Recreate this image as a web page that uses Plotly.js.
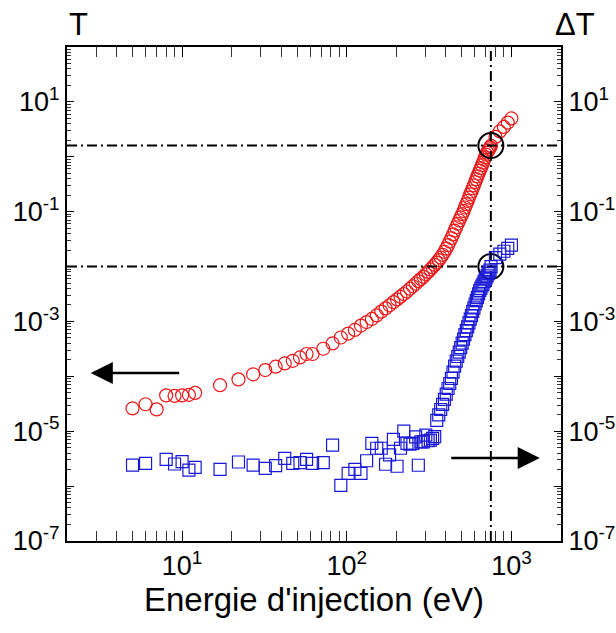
<!DOCTYPE html>
<html>
<head>
<meta charset="utf-8">
<script src="https://cdn.plot.ly/plotly-3.0.1.min.js"></script>
<style>html,body{margin:0;padding:0;background:#fff;}#chart{width:616px;height:633px;}</style>
</head>
<body>
<div id="chart"></div>
<script>
// Energie d'injection (eV) for T (red circles)
const energyT = [5,6,7,8,9,10,11,12,17,22,27,32,37,42,47,52,57,62,
  72,82,92,102,112,122,132,142,152,162,172,182,192,202,212,222,232,242,252,262,272,282,292,
  302,312,322,332,342,352,362,372,382,392,402,412,422,432,442,452,462,472,482,492,
  502,512,522,532,542,552,562,572,582,592,602,612,622,632,642,652,662,672,682,692,
  702,712,722,732,742,752,800,850,900,950,1000];
const valuesT = [2.6e-5,3.1e-5,2.5e-5,4.5e-5,4.4e-5,4.5e-5,4.6e-5,5.0e-5,6.9e-5,8.8e-5,1.09e-4,1.30e-4,1.50e-4,1.72e-4,1.92e-4,2.21e-4,2.55e-4,2.55e-4,
  3.18e-4,3.98e-4,5.1e-4,6.0e-4,7.0e-4,8.4e-4,9.75e-4,1.11e-3,1.29e-3,1.51e-3,1.73e-3,1.97e-3,2.24e-3,2.52e-3,2.83e-3,3.16e-3,3.51e-3,3.94e-3,4.38e-3,4.86e-3,5.41e-3,5.93e-3,6.5e-3,
  7.24e-3,8.0e-3,8.85e-3,9.72e-3,1.07e-2,1.18e-2,1.31e-2,1.46e-2,1.64e-2,1.86e-2,2.12e-2,2.45e-2,2.85e-2,3.30e-2,3.85e-2,4.50e-2,5.20e-2,6.00e-2,6.90e-2,7.90e-2,
  9.0e-2,0.103,0.119,0.137,0.157,0.180,0.207,0.233,0.267,0.302,0.346,0.390,0.440,0.495,0.560,0.621,0.702,0.780,0.881,0.979,
  1.09,1.19,1.29,1.37,1.48,1.58,2.3,2.9,3.5,4.2,5.0];

// Energie d'injection (eV) for Delta T (blue squares)
const energyDT = [5,6,8,9,10,11,12,17,22,27,32,37,42,47,52,57,62,
  72,82,92,102,112,122,132,142,152,162,172,182,192,202,212,222,232,242,252,262,272,282,292,
  302,312,322,332,342,352,362,372,382,392,402,412,422,432,442,452,462,472,482,492,
  502,512,522,532,542,552,562,572,582,592,602,612,622,632,642,652,662,672,682,692,
  702,712,722,732,742,752,800,850,900,950,1000];
const valuesDT = [2.42e-6,2.6e-6,3.08e-6,2.53e-6,2.79e-6,1.96e-6,2.2e-6,2.02e-6,2.75e-6,2.42e-6,2.11e-6,2.36e-6,3.2e-6,2.6e-6,2.67e-6,3.08e-6,2.6e-6,
  2.67e-6,5.6e-6,1.03e-6,1.71e-6,2.02e-6,1.71e-6,2.9e-6,6.0e-6,4.9e-6,4.9e-6,2.5e-6,3.7e-6,7.1e-6,2.3e-6,4.9e-6,1.0e-5,6.0e-6,5.8e-6,6.0e-6,7.9e-6,2.4e-6,6.4e-6,6.4e-6,
  8.5e-6,6.7e-6,6.9e-6,7.4e-6,8.0e-6,1.58e-5,1.98e-5,2.49e-5,3.09e-5,3.80e-5,4.76e-5,6.0e-5,7.4e-5,9.2e-5,1.19e-4,1.53e-4,1.90e-4,2.30e-4,2.77e-4,3.34e-4,
  4.04e-4,4.77e-4,5.77e-4,6.78e-4,7.98e-4,9.38e-4,1.10e-3,1.28e-3,1.52e-3,1.76e-3,2.08e-3,2.39e-3,2.75e-3,3.18e-3,3.66e-3,4.0e-3,4.42e-3,4.80e-3,5.30e-3,5.75e-3,
  6.24e-3,6.76e-3,7.43e-3,7.96e-3,8.63e-3,1.0e-2,1.45e-2,1.68e-2,1.90e-2,2.15e-2,2.45e-2];

// Guide lines and marked points
const guideEnergy = 750;
const guideLevels = [1.6, 0.01];
const xRangeEnds = [2, 2000];
const yRangeEnds = [1e-7, 1e2];

// Tick labels
const xTickVals = [10, 100, 1000];
const xTickText = ['10<sup>1</sup>', '10<sup>2</sup>', '10<sup>3</sup>'];
const yTickVals = [1e-7,1e-6,1e-5,1e-4,1e-3,1e-2,1e-1,1e0,1e1,1e2];
const yTickText = ['10<sup>-7</sup>','','10<sup>-5</sup>','','10<sup>-3</sup>','','10<sup>-1</sup>','','10<sup>1</sup>',''];

function minorVals(k0, k1) {
  const out = [];
  for (let k = k0; k <= k1; k++) for (let m = 2; m <= 9; m++) out.push(m * Math.pow(10, k));
  return out;
}

const FONT = 'Liberation Sans, Arial, sans-serif';
const dashPat = '10px,4px,2px,4px';

const traces = [
  {x: energyT, y: valuesT, type: 'scatter', mode: 'markers', name: 'T',
   marker: {symbol: 'circle-open', size: 13, color: 'rgb(235,25,25)', line: {width: 1.2, color: 'rgb(235,25,25)'}}},
  {x: energyDT, y: valuesDT, type: 'scatter', mode: 'markers', name: 'ΔT', yaxis: 'y2',
   marker: {symbol: 'square-open', size: 12, color: 'rgb(25,25,215)', line: {width: 1.2, color: 'rgb(25,25,215)'}}},
  {x: [guideEnergy, guideEnergy], y: yRangeEnds, type: 'scatter', mode: 'lines', showlegend: false,
   line: {color: 'black', width: 2, dash: dashPat}},
  {x: xRangeEnds, y: [guideLevels[0], guideLevels[0]], type: 'scatter', mode: 'lines', showlegend: false,
   line: {color: 'black', width: 2, dash: dashPat}},
  {x: xRangeEnds, y: [guideLevels[1], guideLevels[1]], type: 'scatter', mode: 'lines', showlegend: false,
   line: {color: 'black', width: 2, dash: dashPat}},
  {x: [guideEnergy, guideEnergy], y: guideLevels, type: 'scatter', mode: 'markers', showlegend: false,
   marker: {symbol: 'circle-open', size: 25, color: 'black', line: {width: 2, color: 'black'}}}
];

const yCommon = {
  type: 'log',
  range: [Math.log10(yRangeEnds[0]), Math.log10(yRangeEnds[1])],
  tickmode: 'array', tickvals: yTickVals, ticktext: yTickText,
  ticks: 'inside', ticklen: 7, tickwidth: 1.2, tickcolor: 'black',
  minor: {tickmode: 'array', tickvals: minorVals(-7, 1), ticks: 'inside', ticklen: 4, tickwidth: 1, tickcolor: '#333', showgrid: false},
  showline: true, linecolor: 'black', linewidth: 2,
  showgrid: false, zeroline: false,
  tickfont: {family: FONT, size: 27, color: 'black'}
};

const layout = {
  width: 616, height: 633,
  margin: {l: 67, r: 55, t: 47, b: 92},
  paper_bgcolor: 'white', plot_bgcolor: 'white',
  showlegend: false,
  font: {family: FONT, color: 'black'},
  xaxis: {
    type: 'log',
    range: [Math.log10(xRangeEnds[0]), Math.log10(xRangeEnds[1])],
    tickmode: 'array', tickvals: xTickVals, ticktext: xTickText,
    ticks: 'inside', ticklen: 10, tickwidth: 1.2, tickcolor: 'black',
    minor: {tickmode: 'array', tickvals: minorVals(0, 3), ticks: 'inside', ticklen: 5, tickwidth: 1, tickcolor: '#333', showgrid: false},
    showline: true, linecolor: 'black', linewidth: 2, mirror: 'allticks',
    showgrid: false, zeroline: false,
    tickfont: {family: FONT, size: 27, color: 'black'},
    title: {text: "Energie d'injection (eV)", font: {family: FONT, size: 33, color: 'black'}, standoff: 5}
  },
  yaxis: Object.assign({}, yCommon, {side: 'left'}),
  yaxis2: Object.assign({}, yCommon, {side: 'right', overlaying: 'y'}),
  annotations: [
    {xref: 'paper', yref: 'paper', x: 0.024, y: 1.045, xanchor: 'center', yanchor: 'middle',
     text: 'T', showarrow: false, font: {family: FONT, size: 31, color: 'black'}},
    {xref: 'paper', yref: 'paper', x: 1.028, y: 1.045, xanchor: 'center', yanchor: 'middle',
     text: 'ΔT', showarrow: false, font: {family: FONT, size: 31, color: 'black'}},
    {xref: 'paper', yref: 'paper', x: 0.048, y: 0.340, ax: 90, ay: 0, text: '', showarrow: true,
     arrowhead: 2, arrowsize: 1.7, arrowwidth: 2.6, arrowcolor: 'black'},
    {xref: 'paper', yref: 'paper', x: 0.957, y: 0.168, ax: -90, ay: 0, text: '', showarrow: true,
     arrowhead: 2, arrowsize: 1.7, arrowwidth: 2.6, arrowcolor: 'black'}
  ]
};

Plotly.newPlot('chart', traces, layout, {staticPlot: true, displayModeBar: false});
</script>
</body>
</html>
